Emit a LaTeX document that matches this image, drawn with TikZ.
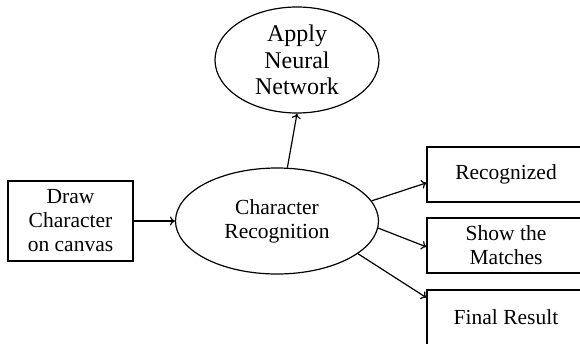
\documentclass[tikz,border=0pt]{standalone}
\usepackage{fontspec}
\setmainfont{Liberation Serif}
\usetikzlibrary{shapes.geometric,arrows.meta}
\begin{document}
\begin{tikzpicture}[x=1pt,y=-1pt,
  every node/.style={align=center, inner sep=0pt},
  body/.style={font=\fontsize{21.5}{24}\selectfont},
  big/.style={font=\fontsize{24}{26.5}\selectfont},
  stepbox/.style={draw, line width=1.2pt, body},
  oval/.style={draw, ellipse, line width=1.2pt},
  link/.style={line width=1.2pt, -{To[length=5pt,width=9pt]}}]
  \useasboundingbox (0,0) rectangle (580,343);
  \clip (0,0) rectangle (580,343);
  \fill[white] (0,0) rectangle (580,343);

  % input box
  \node[stepbox, minimum width=125pt, minimum height=80pt] (draw) at (70.5,221)
    {Draw\\Character\\on canvas};

  % central recognition step
  \node[oval, body, minimum width=203pt, minimum height=106pt] (cr) at (277,221)
    {Character\\Recognition};

  % neural network step
  \node[oval, big, minimum width=164pt, minimum height=106pt] (nn) at (297,60)
    {Apply\\Neural\\Network};

  % output boxes, running past the right margin
  \node[stepbox, minimum width=158pt, minimum height=55pt] (rec) at (506,174.5) {Recognized};
  \node[stepbox, minimum width=158pt, minimum height=55pt] (show) at (506,245.5) {Show the\\Matches};
  \node[stepbox, minimum width=158pt, minimum height=55pt] (fin) at (506,317.5) {Final Result};

  % connectors
  \draw[link] (draw.east) -- (cr.west);
  \draw[link] (cr.79) -- (nn.south);
  \draw[link] (cr.12) -- (rec.186);
  \draw[link] (cr.-4) -- (show.181);
  \draw[link] (cr.-22) -- (fin.166);
\end{tikzpicture}
\end{document}
